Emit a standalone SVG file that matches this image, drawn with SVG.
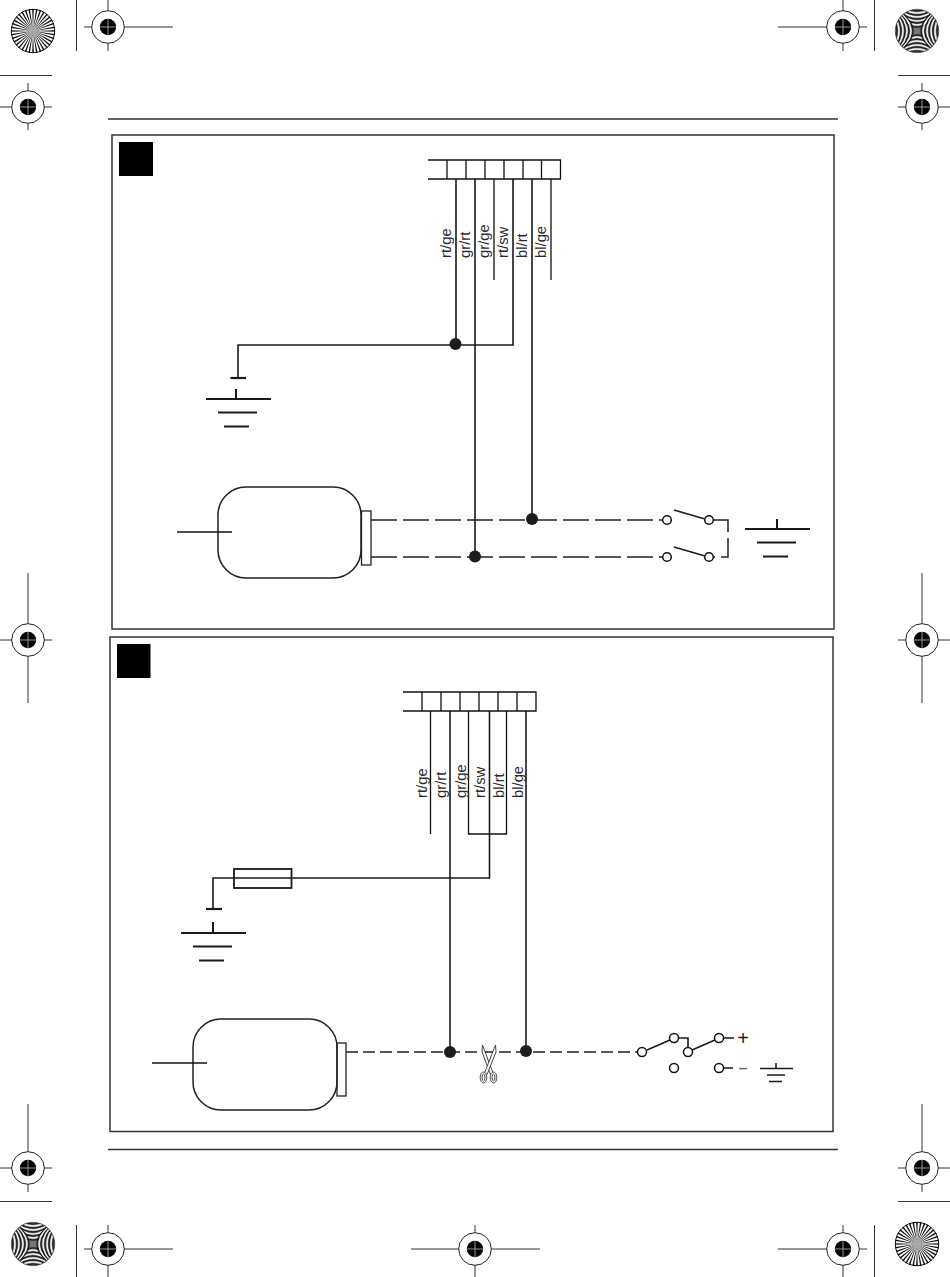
<svg xmlns="http://www.w3.org/2000/svg" xmlns:xlink="http://www.w3.org/1999/xlink" width="950" height="1277" viewBox="0 0 950 1277">
<style>
.w{fill:none;stroke:#1a1a1a;stroke-width:1.6}
.t{fill:none;stroke:#111;stroke-width:1.3}
.b{fill:none;stroke:#1a1a1a;stroke-width:2}
.bar{fill:none;stroke:#1a1a1a;stroke-width:2.2}
.d{fill:none;stroke:#222;stroke-width:1.5;stroke-dasharray:26 6}
.d2{fill:none;stroke:#222;stroke-width:1.4;stroke-dasharray:12 5}
.c{fill:#fff;stroke:#111;stroke-width:1.5}
.dot{fill:#1c1c1c}
.reg{fill:none;stroke:#333;stroke-width:1}
.l{fill:none;stroke:#efefef;stroke-width:1.5}
.k{fill:none;stroke:#222;stroke-width:1.5}
text{font-family:"Liberation Sans",Arial,sans-serif;font-size:14.8px;fill:#2a2a2a}
</style>
<defs>
<g id="target">
<circle r="16.3" fill="#fff" stroke="#222" stroke-width="1"/>
<circle r="8.2" fill="#000"/>
<path d="M-8.2 0H8.2M0-8.2V8.2" stroke="#bbb" stroke-width=".8"/>
</g>
<polygon id="sp" points="0,0 -.8,-22 .8,-22" fill="#111"/>
<g id="sp6"><use xlink:href="#sp"/><use xlink:href="#sp" transform="rotate(10)"/><use xlink:href="#sp" transform="rotate(20)"/><use xlink:href="#sp" transform="rotate(30)"/><use xlink:href="#sp" transform="rotate(40)"/><use xlink:href="#sp" transform="rotate(50)"/></g>
<g id="wheel">
<circle r="21.7" fill="#fff"/>
<use xlink:href="#sp6"/><use xlink:href="#sp6" transform="rotate(60)"/><use xlink:href="#sp6" transform="rotate(120)"/><use xlink:href="#sp6" transform="rotate(180)"/><use xlink:href="#sp6" transform="rotate(240)"/><use xlink:href="#sp6" transform="rotate(300)"/>
<circle r="21.7" fill="none" stroke="#111" stroke-width="1"/>
</g>
<clipPath id="mc"><circle r="21.7"/></clipPath>
<g id="q">
<path class="k" d="M-24-24.300Q0 16.300 24-24.300"/>
<path class="l" d="M-24-24.700Q0 12.700 24-24.700"/>
<path class="k" d="M-24-25.300Q0 9.300 24-25.300"/>
<path class="l" d="M-24-26Q0 6 24-26"/>
<path class="k" d="M-24-26.800Q0 2.800 24-26.800"/>
<path class="l" d="M-24-27.800Q0-.2 24-27.800"/>
<path class="k" d="M-24-28.800Q0-3.200 24-28.800"/>
<path class="l" d="M-24-30Q0-6 24-30"/>
<path class="k" d="M-24-31Q0-9 24-31"/>
<path class="l" d="M-24-32.500Q0-11.500 24-32.500"/>
</g>
<g id="moire">
<g clip-path="url(#mc)">
<circle r="21.7" fill="#777"/>
<use xlink:href="#q"/><use xlink:href="#q" transform="rotate(180)"/><use xlink:href="#q" transform="rotate(90)"/><use xlink:href="#q" transform="rotate(270)"/>
</g>
<circle r="21.7" fill="none" stroke="#333" stroke-width=".8"/>
</g>
<g id="ground">
<path class="bar" d="M-32 0H33M-20 13.500H19M-14 27.500H11"/>
</g>
</defs>

<g id="printer-marks">
<path class="reg" d="M0 75.500H52M898 75.500H950M0 1201.500H52M898 1201.500H950M76.500 0V51M874.500 0V51M76.500 1225V1277M874.500 1225V1277"/>
<path class="reg" d="M84 27H173M108 0V51M778 27H867M843 0V51M0 107H52M28 83V130M898 107H950M922 83V130M0 640H52M28 573V703M898 640H950M922 573V703M0 1168H52M28 1104V1192M898 1168H950M922 1104V1192M84 1249H173M108 1225V1277M778 1249H867M843 1225V1277M411 1249H540M475 1225V1277"/>
<use xlink:href="#target" x="108" y="27"/><use xlink:href="#target" x="843" y="27"/><use xlink:href="#target" x="28" y="107"/><use xlink:href="#target" x="922" y="107"/><use xlink:href="#target" x="28" y="640"/><use xlink:href="#target" x="922" y="640"/><use xlink:href="#target" x="28" y="1168"/><use xlink:href="#target" x="922" y="1168"/><use xlink:href="#target" x="108" y="1249"/><use xlink:href="#target" x="475" y="1249"/><use xlink:href="#target" x="843" y="1249"/>
<use xlink:href="#wheel" x="33" y="31"/><use xlink:href="#moire" x="917" y="31"/><use xlink:href="#moire" x="33" y="1244"/><use xlink:href="#wheel" x="917" y="1244"/>
</g>

<g id="rules">
<path d="M108 119H838M108 1149.500H838" fill="none" stroke="#333" stroke-width="1.6"/>
</g>

<g id="panel-a">
<rect x="112" y="135" width="722" height="494" fill="none" stroke="#333" stroke-width="1.5"/>
<rect x="119" y="142" width="34" height="34" fill="#000"/>
</g>
<g id="panel-b">
<rect x="110" y="637" width="723" height="494.500" fill="none" stroke="#333" stroke-width="1.5"/>
<rect x="117" y="644" width="33.500" height="34" fill="#000"/>
</g>

<g id="connectors">
<path class="w" d="M456 179V344M475 179V556M513 179V345H238V378M532 179V519"/>
<path class="t" d="M494 179V280M551 179V280"/>
<path class="d" d="M371 520H665M371 557H665"/>
<path class="d" d="M714 520H728V557H714" stroke-dasharray="13 5"/>
<path class="w" d="M450 711V1052M526 711V1051M489.500 711V878H213V908"/>
<path class="t" d="M430.500 711V834M468.500 711V834H506.500V711"/>
<path class="d2" d="M346 1052H640"/>
</g>

<g id="terminal-a">
<path class="t" d="M428 160H560.500V179H428M447 160V179M466 160V179M485 160V179M504 160V179M523 160V179M541.500 160V179"/>
</g>
<g id="labels-a">
<text transform="translate(450.500 258) rotate(-90)">rt/ge</text>
<text transform="translate(469.500 258) rotate(-90)">gr/rt</text>
<text transform="translate(489 258) rotate(-90)">gr/ge</text>
<text transform="translate(508 258) rotate(-90)">rt/sw</text>
<text transform="translate(527 258) rotate(-90)">bl/rt</text>
<text transform="translate(546 258) rotate(-90)">bl/ge</text>
</g>
<g id="junctions-a">
<circle class="dot" cx="455.500" cy="344" r="6"/>
<circle class="dot" cx="475" cy="556.500" r="6"/>
<circle class="dot" cx="532" cy="519" r="6"/>
</g>
<g id="ground-a1" transform="translate(238 399)">
<path class="bar" d="M-7.500-21H8"/>
<path class="b" d="M-2-10V0"/>
<use xlink:href="#ground"/>
</g>
<g id="motor-a">
<rect x="218" y="487" width="143" height="91" rx="28" fill="#fff" stroke="#222" stroke-width="1.5"/>
<rect x="361.500" y="511" width="9.500" height="54" fill="none" stroke="#222" stroke-width="1.3"/>
<path class="t" d="M177 532H232"/>
</g>
<g id="switch-a">
<circle class="c" cx="667" cy="520" r="4.300"/><circle class="c" cx="709" cy="520" r="4.300"/>
<circle class="c" cx="667" cy="557" r="4.300"/><circle class="c" cx="709" cy="557" r="4.300"/>
<path class="w" d="M674 510L705 519M674 547L705 556"/>
</g>
<g id="ground-a2" transform="translate(777 529)">
<path class="b" d="M0-10V0"/>
<use xlink:href="#ground"/>
</g>

<g id="terminal-b">
<path class="t" d="M403 692H536V711H403M422 692V711M441 692V711M460 692V711M479 692V711M498 692V711M517 692V711"/>
</g>
<g id="labels-b">
<text transform="translate(427 798) rotate(-90)">rt/ge</text>
<text transform="translate(446 798) rotate(-90)">gr/rt</text>
<text transform="translate(465.500 798) rotate(-90)">gr/ge</text>
<text transform="translate(485 798) rotate(-90)">rt/sw</text>
<text transform="translate(504 798) rotate(-90)">bl/rt</text>
<text transform="translate(522.500 798) rotate(-90)">bl/ge</text>
</g>
<g id="fuse">
<rect x="234" y="869" width="57.500" height="19" fill="none" stroke="#1a1a1a" stroke-width="1.8"/>
</g>
<g id="ground-b1" transform="translate(213 933)">
<path class="bar" d="M-7-24H9"/>
<path class="b" d="M0-11V0"/>
<use xlink:href="#ground"/>
</g>
<g id="motor-b">
<rect x="193" y="1019" width="144" height="91" rx="28" fill="#fff" stroke="#222" stroke-width="1.5"/>
<rect x="337" y="1043" width="9" height="53" fill="none" stroke="#222" stroke-width="1.3"/>
<path class="t" d="M152 1063H207"/>
</g>
<g id="junctions-b">
<circle class="dot" cx="450" cy="1052" r="6"/>
<circle class="dot" cx="526" cy="1051" r="6"/>
</g>
<g id="scissors" fill="#fff" stroke="#333" stroke-width=".9">
<path d="M482.500 1045L493 1073L490.500 1074.500L482 1052Z"/>
<path d="M495.500 1045L484.500 1073L487 1074.500L496 1052Z"/>
<ellipse cx="483.500" cy="1077.500" rx="3.300" ry="5.500"/>
<ellipse cx="493.500" cy="1077.500" rx="3.300" ry="5.500"/>
<ellipse cx="483.500" cy="1077.500" rx="1.500" ry="3.500"/>
<ellipse cx="493.500" cy="1077.500" rx="1.500" ry="3.500"/>
</g>
<g id="switch-b">
<path class="w" d="M647 1050L670 1040M692 1050L715 1040M678 1038H688V1047M723 1038H734M723 1068H733"/>
<circle class="c" cx="642" cy="1052" r="4.500"/><circle class="c" cx="674" cy="1038" r="4.500"/><circle class="c" cx="688" cy="1052" r="4.500"/><circle class="c" cx="719" cy="1038" r="4.500"/><circle class="c" cx="674" cy="1068" r="4.500"/><circle class="c" cx="719" cy="1068" r="4.500"/>
<text x="743" y="1045" text-anchor="middle" style="font-size:20px;fill:#222">+</text>
<text x="743" y="1073" text-anchor="middle" style="font-size:15.500px;fill:#666;font-weight:bold">–</text>
</g>
<g id="ground-b2">
<path class="w" d="M776 1063V1068.500M760 1068.500H793M767 1075H785M769 1081.500H782"/>
</g>
</svg>
